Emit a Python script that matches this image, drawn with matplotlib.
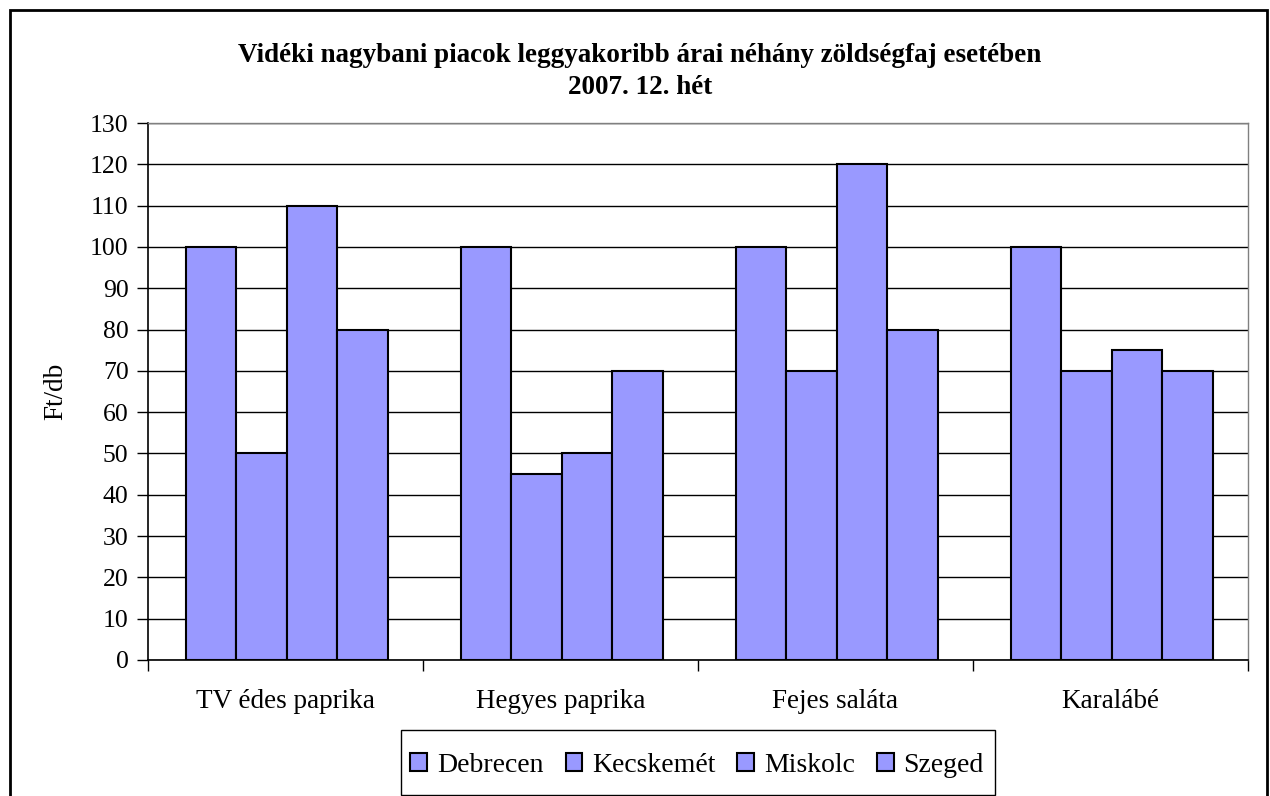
import matplotlib
matplotlib.use("Agg")
import matplotlib.pyplot as plt
import numpy as np
from matplotlib.patches import Rectangle

categories = ["TV édes paprika", "Hegyes paprika", "Fejes saláta", "Karalábé"]
series_names = ["Debrecen", "Kecskemét", "Miskolc", "Szeged"]
debrecen = [100, 100, 100, 100]
kecskemet = [50, 45, 70, 70]
miskolc = [110, 50, 120, 75]
szeged = [80, 70, 80, 70]
yticks = list(range(0, 131, 10))

plt.rcParams['font.family'] = ['Liberation Serif', 'DejaVu Serif']

fig = plt.figure(figsize=(12.7, 7.96), dpi=100)
ax = fig.add_axes([148/1270, 1-660/796, 1100/1270, 537/796])

series = [debrecen, kecskemet, miskolc, szeged]
n = len(series)
bw = 0.1836
x = np.arange(len(categories))
for i, (name, vals) in enumerate(zip(series_names, series)):
    pos = x + (i - (n - 1) / 2) * bw + 0.004
    ax.bar(pos, vals, width=bw, color='#9999FF', edgecolor='black', linewidth=1.5,
           label=name, zorder=3)

ax.set_xlim(-0.5, len(categories) - 0.5)
ax.set_ylim(0, 130)
ax.set_yticks(yticks)
ax.set_yticklabels([str(t) for t in yticks], fontsize=18.5)
ax.yaxis.grid(True, color='black', linewidth=1.0, zorder=0)
ax.set_axisbelow(True)

ax.set_xticks(np.arange(len(categories) + 1) - 0.5)
ax.set_xticklabels([])
ax.set_xticks(x, minor=True)
ax.set_xticklabels(categories, minor=True, fontsize=19.5)
ax.tick_params(axis='x', which='minor', length=0, pad=21)
ax.tick_params(axis='x', which='major', length=8, width=1, direction='out')
ax.tick_params(axis='y', length=8, width=1, direction='out', pad=6)

for s in ['left', 'bottom']:
    ax.spines[s].set_color('black')
    ax.spines[s].set_linewidth(1.2)
for s in ['top', 'right']:
    ax.spines[s].set_color('#808080')
    ax.spines[s].set_linewidth(1.0)

fig.text(56/1270, 1-391/796, "Ft/db", rotation=90, ha='center', va='center', fontsize=19.5)

fig.text(0.504, 1-55/796, "Vidéki nagybani piacok leggyakoribb árai néhány zöldségfaj esetében",
         ha='center', va='center', fontsize=19.5, fontweight='bold')
fig.text(0.504, 1-88/796, "2007. 12. hét", ha='center', va='center', fontsize=19.5, fontweight='bold')

leg = fig.legend(loc='center', bbox_to_anchor=(697/1270, 1-765/796), ncol=4,
                 fontsize=20, frameon=False,
                 handlelength=0.6, handleheight=0.6, handletextpad=0.35,
                 columnspacing=0.8, borderpad=0, borderaxespad=0)
for h in leg.legend_handles:
    h.set_linewidth(1.5)

fig.patches.append(Rectangle((401/1270, 1-795/796), 594/1270, 65/796,
                             transform=fig.transFigure, fill=False,
                             edgecolor='black', linewidth=1.0))

fig.patches.append(Rectangle((10/1270, -0.05), 1257/1270, 1.05 - 10/796,
                             transform=fig.transFigure, fill=False,
                             edgecolor='black', linewidth=2))

fig.savefig("out.png", dpi=100)
